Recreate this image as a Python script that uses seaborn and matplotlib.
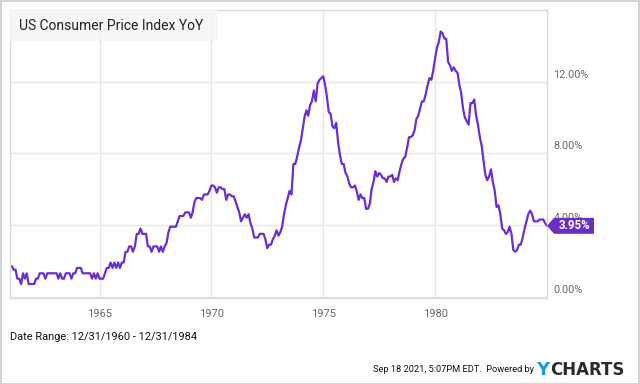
import matplotlib
matplotlib.use("Agg")
import matplotlib.pyplot as plt
from matplotlib.patches import Rectangle, Polygon
import seaborn as sns
import pandas as pd

# Monthly US CPI YoY (%), Jan 1961 - Dec 1984
cpi_1961_1972 = [
    1.7, 1.5, 1.5, 1.0, 1.0, 0.7, 1.3, 1.0, 1.3, 0.7, 0.7, 0.7,
    0.7, 1.0, 1.0, 1.3, 1.3, 1.3, 1.0, 1.3, 1.3, 1.3, 1.3, 1.3,
    1.3, 1.0, 1.3, 1.0, 1.0, 1.3, 1.3, 1.3, 1.0, 1.3, 1.3, 1.6,
    1.6, 1.6, 1.3, 1.3, 1.3, 1.3, 1.3, 1.0, 1.3, 1.0, 1.3, 1.0,
    1.0, 1.0, 1.3, 1.6, 1.6, 1.9, 1.6, 1.9, 1.6, 1.9, 1.6, 1.9,
    1.9, 2.5, 2.5, 2.8, 2.8, 2.5, 2.8, 3.5, 3.5, 3.8, 3.5, 3.5,
    3.5, 2.8, 2.8, 2.5, 2.8, 2.8, 2.8, 2.5, 2.8, 2.5, 2.8, 3.0,
    3.6, 3.9, 3.9, 3.9, 3.9, 4.2, 4.5, 4.5, 4.5, 4.7, 4.7, 4.7,
    4.4, 4.7, 5.3, 5.5, 5.5, 5.5, 5.4, 5.7, 5.7, 5.7, 5.9, 6.2,
    6.2, 6.1, 5.8, 6.1, 6.1, 6.0, 6.0, 5.4, 5.7, 5.7, 5.6, 5.6,
    5.3, 5.0, 4.7, 4.2, 4.4, 4.6, 4.4, 4.6, 4.1, 3.8, 3.3, 3.3,
    3.3, 3.5, 3.5, 3.5, 3.2, 2.7, 2.9, 2.9, 3.2, 3.4, 3.7, 3.4,
]
cpi_1973_1984 = [
    3.6, 3.9, 4.6, 5.1, 5.5, 5.9, 5.7, 7.4, 7.4, 7.8, 8.3, 8.7,
    9.4, 10.0, 10.4, 10.1, 10.7, 10.9, 11.5, 10.9, 11.9, 12.1, 12.2, 12.3,
    11.8, 11.2, 10.3, 10.2, 9.5, 9.4, 9.7, 8.6, 7.9, 7.4, 7.4, 6.9,
    6.7, 6.3, 6.1, 6.1, 6.2, 5.9, 5.4, 5.7, 5.5, 5.5, 4.9, 4.9,
    5.2, 6.0, 6.4, 7.0, 6.7, 6.9, 6.8, 6.6, 6.6, 6.4, 6.7, 6.7,
    6.8, 6.4, 6.6, 6.5, 7.0, 7.4, 7.7, 7.8, 8.3, 8.9, 8.9, 9.0,
    9.3, 9.9, 10.1, 10.5, 10.9, 10.9, 11.3, 11.8, 12.2, 12.1, 12.6, 13.3,
    13.9, 14.2, 14.8, 14.7, 14.4, 14.4, 13.1, 12.9, 12.6, 12.8, 12.6, 12.5,
    11.8, 11.4, 10.5, 10.0, 9.8, 9.6, 10.8, 10.8, 11.0, 10.1, 9.6, 8.9,
    8.4, 7.6, 6.8, 6.5, 6.7, 7.1, 6.4, 5.9, 5.0, 5.1, 4.6, 3.8,
    3.7, 3.5, 3.6, 3.9, 3.5, 2.6, 2.5, 2.6, 2.9, 2.9, 3.3, 3.8,
    4.2, 4.6, 4.8, 4.6, 4.2, 4.2, 4.2, 4.3, 4.3, 4.3, 4.1, 3.95,
]
values = cpi_1961_1972 + cpi_1973_1984
dates = pd.date_range("1961-01-31", periods=len(values), freq="ME")

y_ticks = [0, 4, 8, 12]
y_tick_labels = ["0.00%", "4.00%", "8.00%", "12.00%"]
x_tick_years = [1965, 1970, 1975, 1980]
last_label = "3.95%"

title = "US Consumer Price Index YoY"
date_range_text = "Date Range: 12/31/1960 - 12/31/1984"
footer_text = "Sep 18 2021, 5:07PM EDT.  Powered by"

df = pd.DataFrame({"date": dates, "cpi": values})

sns.set_theme(style="white")
plt.rcParams["font.family"] = ["Roboto", "DejaVu Sans"]

W, H = 640, 384
fig = plt.figure(figsize=(W / 100, H / 100), dpi=100)
fig.patch.set_facecolor("white")
# outer border
fig.add_artist(Rectangle((0.5 / W, 0.5 / H), 1 - 1.5 / W, 1 - 1.5 / H,
                         transform=fig.transFigure, fill=False,
                         edgecolor="#cccccc", linewidth=1.2))

L, R, T, B = 10, 547, 10, 298
ax = fig.add_axes([L / W, 1 - B / H, (R - L) / W, (B - T) / H])

purple = "#6b2fcf"
sns.lineplot(data=df, x="date", y="cpi", ax=ax, color=purple, linewidth=1.6)

ax.set_xlim(pd.Timestamp("1960-12-31"), pd.Timestamp("1984-12-31"))
ax.set_ylim(-0.08, 16.0)
ax.set_xlabel("")
ax.set_ylabel("")

ax.set_xticks([pd.Timestamp(f"{y}-01-01") for y in x_tick_years])
ax.set_xticklabels([str(y) for y in x_tick_years], color="#666666", fontsize=8)
ax.tick_params(axis="x", length=0, pad=8)
ax.set_yticks(y_ticks)
ax.set_yticklabels([])
ax.tick_params(axis="y", length=0)
ax.grid(True, color="#e6e6e6", linewidth=1.0)
for s in ax.spines.values():
    s.set_color("#d9d9d9")
    s.set_linewidth(1.0)

# right-side y labels (slightly above the gridlines)
for v, lab in zip(y_ticks, y_tick_labels):
    ax.annotate(lab, xy=(1, v), xycoords=("axes fraction", "data"),
                xytext=(4.5, 5), textcoords="offset points",
                ha="left", va="center", color="#666666", fontsize=7.8)

# last value tag
last_v = values[-1]
yp = ax.transData.transform((0, last_v))[1]
ty = yp / H
tag = Polygon([(R / W, ty), ((R + 7) / W, ty + 8 / H), ((R + 47) / W, ty + 8 / H),
               ((R + 47) / W, ty - 8 / H), ((R + 7) / W, ty - 8 / H)],
              closed=True, transform=fig.transFigure, facecolor="#6a2fc0",
              edgecolor="none", zorder=10)
fig.add_artist(tag)
fig.text((R + 27.5) / W, ty, last_label, color="white", fontsize=8.3,
         fontweight="bold", ha="center", va="center", zorder=11)

# title box
fig.add_artist(Rectangle((L / W, 1 - 41 / H), (218 - L) / W, 31 / H,
                         transform=fig.transFigure, facecolor="#f5f5f5",
                         edgecolor="none", zorder=5, alpha=0.9))
fig.text(19 / W, 1 - 26 / H, title, fontsize=10, color="#222222",
         ha="left", va="center", zorder=6)

fig.text(10 / W, 1 - 337 / H, date_range_text, fontsize=7.9, color="#111111",
         ha="left", va="center")
fig.text(534 / W, 1 - 370 / H, footer_text, fontsize=6.7, color="#111111",
         ha="right", va="center")
fig.text(536 / W, 1 - 370 / H, "Y", fontsize=13, color="#1a9be0",
         fontweight="bold", ha="left", va="center", family="DejaVu Sans")
fig.text(550 / W, 1 - 370 / H, "CHARTS", fontsize=12, color="#2b2b2b",
         fontweight="bold", ha="left", va="center", family="DejaVu Sans")

fig.savefig("out.png", dpi=100)
